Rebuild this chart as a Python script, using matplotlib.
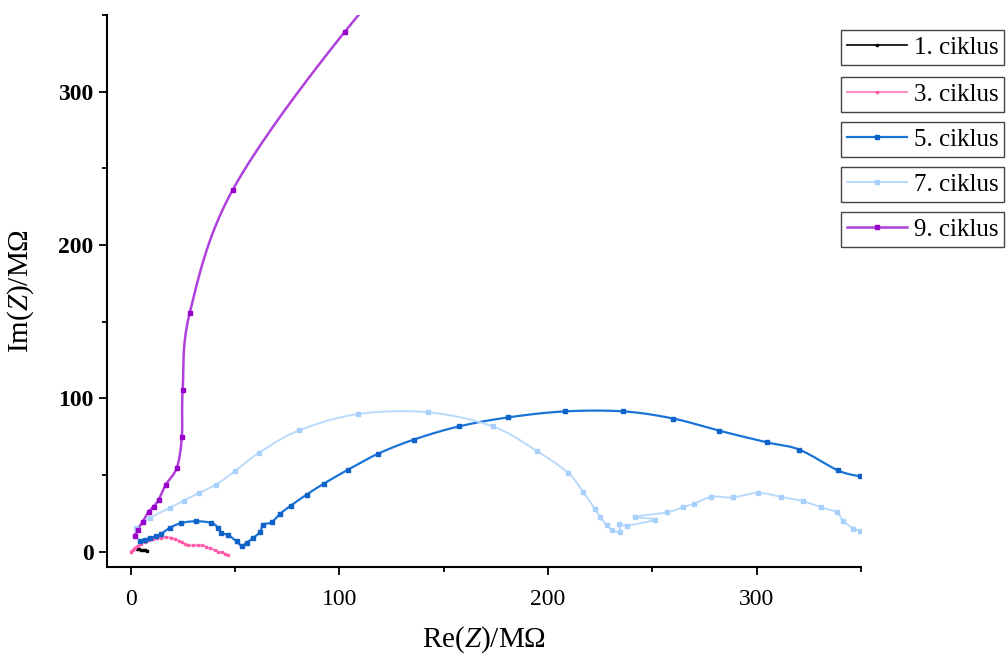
import numpy as np
import matplotlib
matplotlib.use('Agg')
import matplotlib.pyplot as plt
from matplotlib.lines import Line2D

plt.rcParams['font.family'] = ['Liberation Serif', 'DejaVu Serif']
plt.rcParams['mathtext.fontset'] = 'custom'
plt.rcParams['mathtext.it'] = 'Liberation Serif:italic'
plt.rcParams['mathtext.rm'] = 'Liberation Serif'

# cycle 1 (black) - tiny blob near origin
x1 = [3.0, 4.0, 5.0, 6.0, 7.0, 8.0]
y1 = [1.5, 1.8, 1.2, 0.9, 0.8, 0.7]

# cycle 3 (pink)
x3 = [0.0, 0.96, 1.9, 3.4, 4.8, 6.7, 8.6, 10.6, 12.5, 14.4, 16.8, 19.2, 21.1, 23.0,
      24.5, 25.9, 27.3, 29.7, 32.1, 34.1, 36.0, 37.9, 40.3, 41.7, 43.6, 45.1, 46.5]
y3 = [0.0, 1.3, 2.6, 3.9, 5.2, 6.5, 7.5, 8.2, 8.8, 9.1, 9.3, 9.1, 8.3, 7.2,
      6.1, 4.9, 4.1, 4.1, 4.1, 4.1, 3.3, 2.3, 0.8, 0.0, -0.5, -1.3, -2.0]

# cycle 5 (blue)
x5 = [4.3, 6.7, 9.1, 12.3, 14.7, 18.7, 24.3, 31.5, 38.7, 41.9, 43.5, 46.7, 50.7, 53.1,
      55.5, 58.7, 61.9, 63.5, 67.5, 71.5, 76.7, 84.3, 92.6, 104.2, 118.6, 135.7, 157.3,
      181.0, 208.2, 236.1, 260.1, 282.0, 304.9, 320.5, 338.9, 349.3]
y5 = [6.7, 7.8, 8.9, 10.0, 11.7, 15.5, 18.7, 19.8, 18.7, 15.5, 12.2, 10.8, 6.7, 3.9,
      5.7, 8.9, 12.6, 17.6, 19.1, 24.6, 30.0, 37.2, 44.4, 53.5, 63.9, 73.1, 81.7,
      87.6, 91.5, 91.5, 86.8, 78.9, 71.3, 66.5, 53.0, 49.1]

# cycle 7 (light blue)
x7 = [2.7, 9.1, 18.7, 25.4, 32.8, 40.8, 49.9, 61.4, 80.7, 109.0, 142.6, 173.5, 194.9,
      209.7, 216.9, 222.5, 224.9, 228.2, 230.6, 234.5, 234.2, 237.7, 251.3, 241.7,
      256.9, 264.6, 270.2, 278.2, 288.6, 300.6, 311.8, 322.4, 330.9, 338.5, 341.3,
      346.4, 349.6]
y7 = [15.5, 21.9, 28.5, 33.3, 38.3, 43.7, 52.4, 64.4, 79.1, 89.8, 90.9, 81.7, 65.4,
      51.3, 38.7, 27.9, 22.6, 17.2, 14.4, 12.6, 18.3, 17.0, 20.9, 22.6,
      25.6, 28.9, 31.3, 35.7, 35.4, 38.3, 35.7, 32.8, 28.9, 25.6, 20.2,
      15.0, 13.7]

# cycle 9 (purple)
x9 = [1.9, 3.4, 5.8, 8.6, 11.0, 13.4, 16.8, 22.1, 24.5, 24.9, 28.3, 48.9, 102.6, 160.0]
y9 = [10.4, 14.4, 19.6, 26.1, 29.4, 33.9, 43.7, 54.8, 75.0, 105.7, 155.9, 236.1, 339.2, 425.0]

labels = ['1. ciklus', '3. ciklus', '5. ciklus', '7. ciklus', '9. ciklus']


def smooth(x, y, n=20):
    # catmull-rom through the points
    p = np.column_stack([x, y]).astype(float)
    p = np.vstack([2 * p[0] - p[1], p, 2 * p[-1] - p[-2]])
    out = []
    t = np.linspace(0, 1, n, endpoint=False)[:, None]
    for i in range(1, len(p) - 2):
        p0, p1, p2, p3 = p[i - 1], p[i], p[i + 1], p[i + 2]
        seg = 0.5 * ((2 * p1) + (-p0 + p2) * t + (2 * p0 - 5 * p1 + 4 * p2 - p3) * t ** 2
                     + (-p0 + 3 * p1 - 3 * p2 + p3) * t ** 3)
        out.append(seg)
    out.append(p[-2][None, :])
    out = np.vstack(out)
    return out[:, 0], out[:, 1]


fig = plt.figure(figsize=(10.07, 6.6), dpi=100)
ax = fig.add_axes([0.106, 0.141, 0.749, 0.836])

series = [
    (x1, y1, '#111111', '#000000', 's', 2.0, 1.3),
    (x3, y3, '#ff7fbf', '#ff5aa8', 's', 2.0, 1.3),
    (x5, y5, '#1a74d8', '#0d63c8', 's', 2.4, 1.6),
    (x7, y7, '#b9dafc', '#a9d0fa', 's', 2.2, 1.4),
    (x9, y9, '#b040dc', '#9600c8', 's', 3.5, 1.8),
]

handles = []
for (x, y, lc, mc, m, ms, lw) in series:
    sx, sy = smooth(x, y)
    ax.plot(sx, sy, color=lc, lw=lw, zorder=2)
    ax.plot(x, y, ls='none', marker=m, ms=ms, color=mc, zorder=3)
    handles.append(Line2D([], [], color=lc, lw=lw, marker=m, ms=ms,
                          markerfacecolor=mc, markeredgecolor=mc))

ax.set_xlim(-11.5, 350)
ax.set_ylim(-10, 350)
ax.spines['top'].set_visible(False)
ax.spines['right'].set_visible(False)
for s in ['left', 'bottom']:
    ax.spines[s].set_linewidth(1.5)

ax.set_xticks([0, 100, 200, 300])
ax.set_xticks([50, 150, 250, 350], minor=True)
ax.set_yticks([0, 100, 200, 300])
ax.set_yticks([50, 150, 250, 350], minor=True)
ax.tick_params(which='major', direction='out', length=6, width=1.3, labelsize=17)
ax.tick_params(axis='x', which='major', pad=10)
ax.tick_params(which='minor', direction='out', length=3.5, width=1.3)
for lab in ax.get_yticklabels():
    lab.set_fontweight('bold')

ax.set_xlabel(r'Re($Z$)/MΩ', fontsize=21, labelpad=10)
ax.set_ylabel(r'Im($Z$)/MΩ', fontsize=21, labelpad=16)

tops = [30, 77, 122, 167, 212]
for h, lab, top in zip(handles, labels, tops):
    leg = fig.legend([h], [lab], loc='upper left',
                     bbox_to_anchor=(841 / 1007, 1 - top / 660),
                     bbox_transform=fig.transFigure, fontsize=18,
                     frameon=True, fancybox=False, edgecolor='#444444',
                     framealpha=1, handlelength=2.4, handletextpad=0.25,
                     borderpad=0.25, borderaxespad=0)
    leg.get_frame().set_linewidth(1.0)

fig.savefig('out.png', dpi=100)
